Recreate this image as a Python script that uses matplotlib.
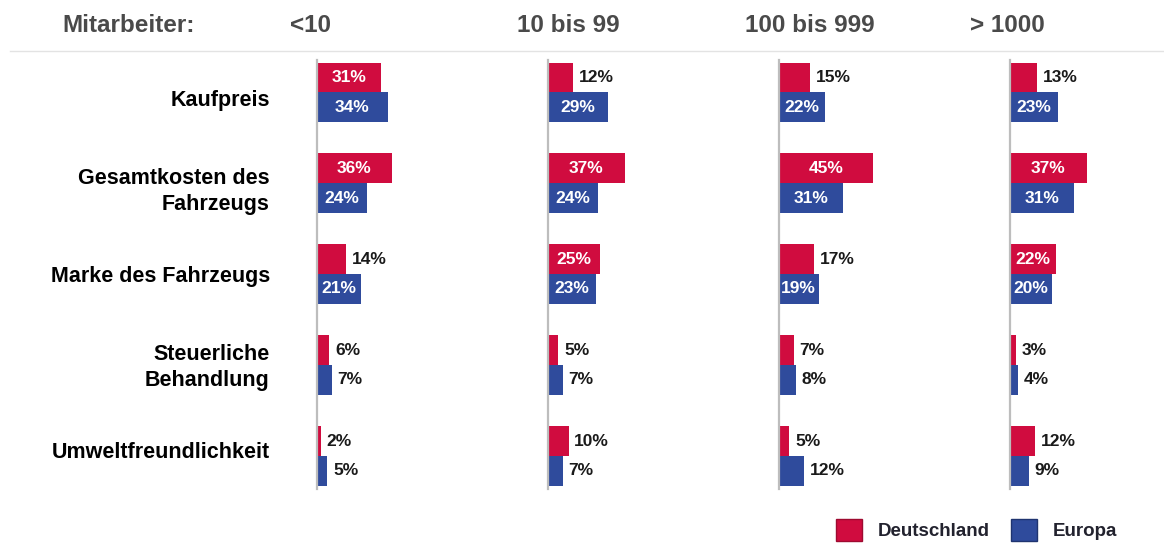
import matplotlib

matplotlib.use("Agg")
import matplotlib.pyplot as plt
from matplotlib.lines import Line2D
from matplotlib.patches import Patch

plt.rcParams["font.family"] = ["Liberation Sans", "DejaVu Sans"]

# data (percent)
categories = [
    "Kaufpreis",
    "Gesamtkosten des\nFahrzeugs",
    "Marke des Fahrzeugs",
    "Steuerliche\nBehandlung",
    "Umweltfreundlichkeit",
]
size_groups = ["<10", "10 bis 99", "100 bis 999", "> 1000"]
deutschland = [
    [31, 36, 14, 6, 2],
    [12, 37, 25, 5, 10],
    [15, 45, 17, 7, 5],
    [13, 37, 22, 3, 12],
]
europa = [
    [34, 24, 21, 7, 5],
    [29, 24, 23, 7, 7],
    [22, 31, 19, 8, 12],
    [23, 31, 20, 4, 9],
]

RED = "#D00C3F"
BLUE = "#2F4B9C"
W, H = 1164, 543

# layout in pixels of the reference
panel_left = [317, 548, 779, 1010]
header_left = [290, 517, 745, 970]
panel_width = 120
px_per_pct = 2.08
bar_h = 0.327
y_top, y_bottom = -0.36, 4.36
row_px = 90.9
ax_bottom_px = 92.3 + y_bottom * row_px
label_step = 0.968  # category labels sit slightly tighter than the rows

fig = plt.figure(figsize=(W / 100, H / 100), dpi=100)


def label_bar(ax, value, y):
    if value >= 18:
        ax.text(value / 2, y, f"{value}%", ha="center", va="center",
                color="white", fontsize=12.5, fontweight="bold")
    else:
        ax.annotate(f"{value}%", (value, y), xytext=(4, 0),
                    textcoords="offset points", ha="left", va="center",
                    color="#1a1a1a", fontsize=12.5, fontweight="bold")


ypos = list(range(len(categories)))
mid = (len(categories) - 1) / 2
for g, left in enumerate(panel_left):
    ax = fig.add_axes([
        left / W,
        (H - ax_bottom_px) / H,
        panel_width / W,
        (y_bottom - y_top) * row_px / H,
    ])
    ax.barh([y - bar_h / 2 for y in ypos], deutschland[g], height=bar_h,
            color=RED, edgecolor="none")
    ax.barh([y + bar_h / 2 for y in ypos], europa[g], height=bar_h,
            color=BLUE, edgecolor="none")
    for y, v in zip(ypos, deutschland[g]):
        label_bar(ax, v, y - bar_h / 2)
    for y, v in zip(ypos, europa[g]):
        label_bar(ax, v, y + bar_h / 2)

    ax.set_xlim(0, panel_width / px_per_pct)
    ax.set_ylim(y_bottom, y_top)
    for side in ("top", "right", "bottom"):
        ax.spines[side].set_visible(False)
    ax.spines["left"].set_color("#bdbdbd")
    ax.spines["left"].set_linewidth(1.6)
    ax.set_xticks([])
    ax.patch.set_alpha(0)
    if g == 0:
        ax.set_yticks([mid + (y - mid) * label_step for y in ypos])
        ax.set_yticklabels(categories, fontsize=15.5, fontweight="bold",
                           linespacing=1.34)
        ax.tick_params(axis="y", length=0, pad=34)
    else:
        ax.set_yticks([])

    fig.text(header_left[g] / W, 1 - 32 / H, size_groups[g], ha="left",
             va="baseline", fontsize=17.5, fontweight="bold", color="#4a4a4a")

fig.text(62 / W, 1 - 32 / H, "Mitarbeiter:", ha="left", va="baseline",
         fontsize=17.5, fontweight="bold", color="#4a4a4a")
fig.add_artist(Line2D([10 / W, 1], [1 - 51 / H, 1 - 51 / H],
                      color="#e3e3e3", linewidth=1))

handles = [
    Patch(facecolor=RED, edgecolor="#9e0a30", label="Deutschland"),
    Patch(facecolor=BLUE, edgecolor="#1f3470", label="Europa"),
]
fig.legend(handles=handles, loc="center left",
           bbox_to_anchor=(836 / W, 13 / H), ncol=2, frameon=False,
           prop={"size": 13.5, "weight": "bold"}, labelcolor="#22222e",
           handlelength=1.4, handleheight=1.4, handletextpad=0.85,
           columnspacing=1.1, borderpad=0, borderaxespad=0)

fig.savefig("out.png", dpi=100)
